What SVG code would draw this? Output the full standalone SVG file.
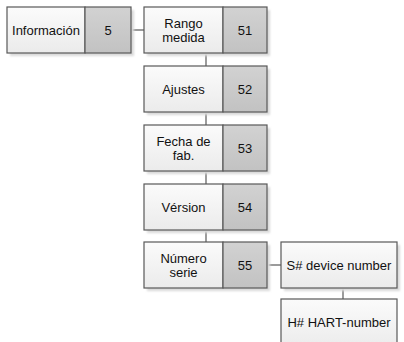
<svg xmlns="http://www.w3.org/2000/svg" width="404" height="342" viewBox="0 0 404 342">
<style>
text{font-family:"Liberation Sans",Arial,sans-serif;font-size:13px;fill:#111;text-anchor:middle}
.lab{fill:url(#gl);stroke:#595959;stroke-width:1.2}
.num{fill:url(#gn);stroke:#595959;stroke-width:1.2}
.sh{fill:#d9d9d9;filter:url(#blur)}
.con{stroke:#595959;stroke-width:1.2;fill:none}
</style>
<defs>
<linearGradient id="gl" x1="0" y1="0" x2="0" y2="1"><stop offset="0" stop-color="#fbfbfb"/><stop offset="1" stop-color="#ebebeb"/></linearGradient>
<linearGradient id="gn" x1="0" y1="0" x2="0" y2="1"><stop offset="0" stop-color="#d2d2d2"/><stop offset="1" stop-color="#c2c2c2"/></linearGradient>
<filter id="blur" x="-10%" y="-10%" width="130%" height="130%"><feGaussianBlur stdDeviation="1"/></filter>
</defs>
<g id="connectors">
<line class="con" x1="131" y1="30" x2="144" y2="30"/>
<line class="con" x1="206" y1="53" x2="206" y2="242"/>
<line class="con" x1="267" y1="265" x2="281" y2="265"/>
<line class="con" x1="343" y1="288" x2="343" y2="299"/>
</g>
<g id="n5">
<rect class="sh" x="10" y="10" width="124" height="46"/>
<rect class="lab" x="7" y="7" width="78" height="46"/>
<rect class="num" x="85" y="7" width="46" height="46"/>
<text x="46" y="34.5">Información</text>
<text x="108" y="34.5">5</text>
</g>
<g id="n51">
<rect class="sh" x="147" y="10" width="123" height="46"/>
<rect class="lab" x="144" y="7" width="79" height="46"/>
<rect class="num" x="223" y="7" width="44" height="46"/>
<text x="183.5" y="28">Rango</text>
<text x="183.5" y="42">medida</text>
<text x="245" y="34.5">51</text>
</g>
<g id="n52">
<rect class="sh" x="147" y="69" width="123" height="46"/>
<rect class="lab" x="144" y="66" width="79" height="46"/>
<rect class="num" x="223" y="66" width="44" height="46"/>
<text x="183.5" y="93.5">Ajustes</text>
<text x="245" y="93.5">52</text>
</g>
<g id="n53">
<rect class="sh" x="147" y="128" width="123" height="46"/>
<rect class="lab" x="144" y="125" width="79" height="46"/>
<rect class="num" x="223" y="125" width="44" height="46"/>
<text x="183.5" y="146">Fecha de</text>
<text x="183.5" y="160">fab.</text>
<text x="245" y="152.5">53</text>
</g>
<g id="n54">
<rect class="sh" x="147" y="187" width="123" height="46"/>
<rect class="lab" x="144" y="184" width="79" height="46"/>
<rect class="num" x="223" y="184" width="44" height="46"/>
<text x="183.5" y="211.5">Vérsion</text>
<text x="245" y="211.5">54</text>
</g>
<g id="n55">
<rect class="sh" x="147" y="245" width="123" height="46"/>
<rect class="lab" x="144" y="242" width="79" height="46"/>
<rect class="num" x="223" y="242" width="44" height="46"/>
<text x="183.5" y="263">Número</text>
<text x="183.5" y="277">serie</text>
<text x="245" y="269.5">55</text>
</g>
<g id="sdev">
<rect class="sh" x="284" y="245" width="116" height="46"/>
<rect class="lab" x="281" y="242" width="116" height="46"/>
<text x="339" y="269.5">S# device number</text>
</g>
<g id="hart">
<rect class="lab" x="281" y="299" width="116" height="50"/>
<text x="339" y="327">H# HART-number</text>
</g>
</svg>
